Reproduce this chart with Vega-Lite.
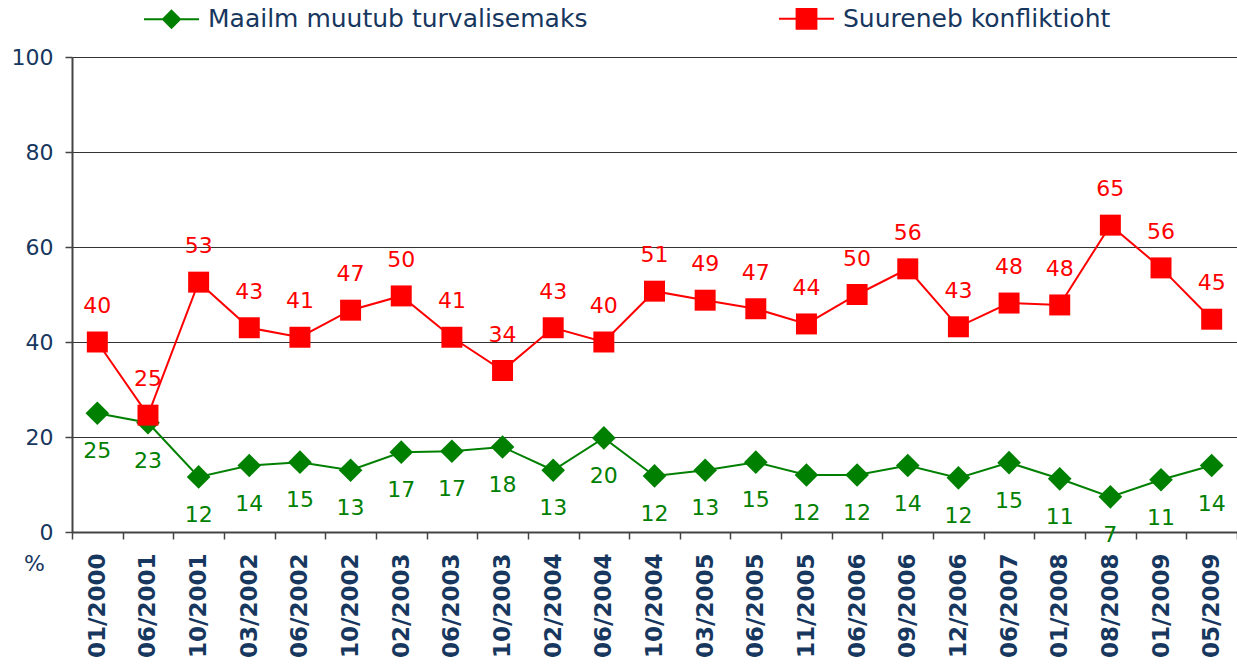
{
  "$schema": "https://vega.github.io/schema/vega-lite/v6.json",
  "autosize": {"type": "none"},
  "width": 1165,
  "height": 475,
  "padding": {"left": 72, "top": 57, "right": 0, "bottom": 134},
  "background": "white",
  "config": {
    "font": "DejaVu Sans",
    "view": {"stroke": null},
    "axis": {"labelColor": "#17375E", "titleColor": "#17375E", "domainColor": "#444444", "tickColor": "#444444", "domainWidth": 2, "tickWidth": 1.5}
  },
  "data": {"values": [
    {"d": "01/2000", "s": "Suureneb konfliktioht", "v": 40, "t": "40"},
    {"d": "06/2001", "s": "Suureneb konfliktioht", "v": 24.6, "t": "25"},
    {"d": "10/2001", "s": "Suureneb konfliktioht", "v": 52.6, "t": "53"},
    {"d": "03/2002", "s": "Suureneb konfliktioht", "v": 43, "t": "43"},
    {"d": "06/2002", "s": "Suureneb konfliktioht", "v": 41, "t": "41"},
    {"d": "10/2002", "s": "Suureneb konfliktioht", "v": 46.7, "t": "47"},
    {"d": "02/2003", "s": "Suureneb konfliktioht", "v": 49.7, "t": "50"},
    {"d": "06/2003", "s": "Suureneb konfliktioht", "v": 41, "t": "41"},
    {"d": "10/2003", "s": "Suureneb konfliktioht", "v": 34, "t": "34"},
    {"d": "02/2004", "s": "Suureneb konfliktioht", "v": 43, "t": "43"},
    {"d": "06/2004", "s": "Suureneb konfliktioht", "v": 40, "t": "40"},
    {"d": "10/2004", "s": "Suureneb konfliktioht", "v": 50.7, "t": "51"},
    {"d": "03/2005", "s": "Suureneb konfliktioht", "v": 48.8, "t": "49"},
    {"d": "06/2005", "s": "Suureneb konfliktioht", "v": 47, "t": "47"},
    {"d": "11/2005", "s": "Suureneb konfliktioht", "v": 43.8, "t": "44"},
    {"d": "06/2006", "s": "Suureneb konfliktioht", "v": 50, "t": "50"},
    {"d": "09/2006", "s": "Suureneb konfliktioht", "v": 55.4, "t": "56"},
    {"d": "12/2006", "s": "Suureneb konfliktioht", "v": 43.2, "t": "43"},
    {"d": "06/2007", "s": "Suureneb konfliktioht", "v": 48.2, "t": "48"},
    {"d": "01/2008", "s": "Suureneb konfliktioht", "v": 47.8, "t": "48"},
    {"d": "08/2008", "s": "Suureneb konfliktioht", "v": 64.6, "t": "65"},
    {"d": "01/2009", "s": "Suureneb konfliktioht", "v": 55.6, "t": "56"},
    {"d": "05/2009", "s": "Suureneb konfliktioht", "v": 44.8, "t": "45"},
    {"d": "01/2000", "s": "Maailm muutub turvalisemaks", "v": 25, "t": "25"},
    {"d": "06/2001", "s": "Maailm muutub turvalisemaks", "v": 23, "t": "23"},
    {"d": "10/2001", "s": "Maailm muutub turvalisemaks", "v": 11.6, "t": "12"},
    {"d": "03/2002", "s": "Maailm muutub turvalisemaks", "v": 14, "t": "14"},
    {"d": "06/2002", "s": "Maailm muutub turvalisemaks", "v": 14.7, "t": "15"},
    {"d": "10/2002", "s": "Maailm muutub turvalisemaks", "v": 13, "t": "13"},
    {"d": "02/2003", "s": "Maailm muutub turvalisemaks", "v": 16.8, "t": "17"},
    {"d": "06/2003", "s": "Maailm muutub turvalisemaks", "v": 17, "t": "17"},
    {"d": "10/2003", "s": "Maailm muutub turvalisemaks", "v": 17.9, "t": "18"},
    {"d": "02/2004", "s": "Maailm muutub turvalisemaks", "v": 13, "t": "13"},
    {"d": "06/2004", "s": "Maailm muutub turvalisemaks", "v": 19.8, "t": "20"},
    {"d": "10/2004", "s": "Maailm muutub turvalisemaks", "v": 11.8, "t": "12"},
    {"d": "03/2005", "s": "Maailm muutub turvalisemaks", "v": 13, "t": "13"},
    {"d": "06/2005", "s": "Maailm muutub turvalisemaks", "v": 14.7, "t": "15"},
    {"d": "11/2005", "s": "Maailm muutub turvalisemaks", "v": 12, "t": "12"},
    {"d": "06/2006", "s": "Maailm muutub turvalisemaks", "v": 12, "t": "12"},
    {"d": "09/2006", "s": "Maailm muutub turvalisemaks", "v": 14, "t": "14"},
    {"d": "12/2006", "s": "Maailm muutub turvalisemaks", "v": 11.4, "t": "12"},
    {"d": "06/2007", "s": "Maailm muutub turvalisemaks", "v": 14.6, "t": "15"},
    {"d": "01/2008", "s": "Maailm muutub turvalisemaks", "v": 11.2, "t": "11"},
    {"d": "08/2008", "s": "Maailm muutub turvalisemaks", "v": 7.4, "t": "7"},
    {"d": "01/2009", "s": "Maailm muutub turvalisemaks", "v": 11, "t": "11"},
    {"d": "05/2009", "s": "Maailm muutub turvalisemaks", "v": 14, "t": "14"}
  ]},
  "encoding": {
    "x": {
      "field": "d", "type": "ordinal", "sort": null,
      "scale": {"type": "band", "paddingInner": 0, "paddingOuter": 0},
      "axis": {"title": null, "labelAngle": -90, "labelFontSize": 23, "labelFontWeight": "bold", "labelPadding": 14, "tickSize": 7, "tickBand": "extent", "labelAlign": "right", "labelBaseline": "middle", "grid": false}
    },
    "y": {
      "field": "v", "type": "quantitative",
      "scale": {"domain": [0, 100], "nice": false},
      "axis": {"values": [0, 20, 40, 60, 80, 100], "title": "%", "titleAngle": 0, "titleFontSize": 22, "titleFontWeight": "normal", "titleX": -38, "titleY": 506, "titleAlign": "center", "titleBaseline": "middle", "labelFontSize": 22, "labelPadding": 12, "tickSize": 7, "grid": true, "gridColor": "#333333", "gridWidth": 1}
    }
  },
  "layer": [
    {
      "mark": {"type": "line", "strokeWidth": 2},
      "encoding": {
        "color": {
          "field": "s", "type": "nominal",
          "scale": {"domain": ["Maailm muutub turvalisemaks", "Suureneb konfliktioht"], "range": ["#008000", "#FF0000"]},
          "legend": {
            "title": null, "orient": "none", "legendX": 71, "legendY": -67, "direction": "horizontal", "columns": 2,
            "columnPadding": 187, "symbolSize": 3025, "labelFontSize": 25, "labelColor": "#17375E", "labelOffset": 8, "labelLimit": 700,
            "symbolStrokeWidth": 2,
            "encode": {"symbols": {"update": {
              "shape": {"signal": "datum.value === 'Suureneb konfliktioht' ? 'M-1,0L-0.36,0M0.36,0L1,0M-0.36,-0.36L0.36,-0.36L0.36,0.36L-0.36,0.36Z' : 'M-1,0L-0.31,0M0.31,0L1,0M0,-0.31L0.31,0L0,0.31L-0.31,0Z'"},
              "fill": {"signal": "datum.value === 'Suureneb konfliktioht' ? '#FF0000' : '#008000'"},
              "stroke": {"signal": "datum.value === 'Suureneb konfliktioht' ? '#FF0000' : '#008000'"},
              "strokeWidth": {"value": 2},
              "opacity": {"value": 1}
            }}}
          }
        }
      }
    },
    {
      "transform": [{"filter": "datum.s === 'Maailm muutub turvalisemaks'"}],
      "mark": {"type": "point", "shape": "diamond", "filled": true, "size": 560, "opacity": 1, "color": "#008000"}
    },
    {
      "transform": [{"filter": "datum.s === 'Suureneb konfliktioht'"}],
      "mark": {"type": "point", "shape": "square", "filled": true, "size": 440, "opacity": 1, "color": "#FF0000"}
    },
    {
      "transform": [{"filter": "datum.s === 'Suureneb konfliktioht'"}],
      "mark": {"type": "text", "fontSize": 22, "dy": -36, "baseline": "middle", "color": "#FF0000"},
      "encoding": {"text": {"field": "t"}}
    },
    {
      "transform": [{"filter": "datum.s === 'Maailm muutub turvalisemaks'"}],
      "mark": {"type": "text", "fontSize": 22, "dy": 38, "baseline": "middle", "color": "#008000"},
      "encoding": {"text": {"field": "t"}}
    }
  ]
}
